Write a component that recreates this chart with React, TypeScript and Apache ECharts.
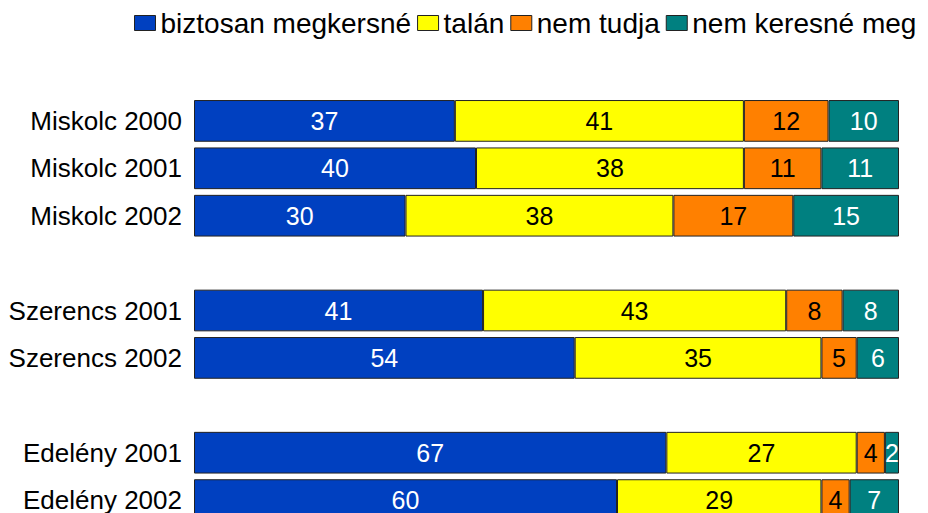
import React, { useEffect, useRef } from "react";
import * as echarts from "echarts";

const categories = [
  "Miskolc 2000",
  "Miskolc 2001",
  "Miskolc 2002",
  "",
  "Szerencs 2001",
  "Szerencs 2002",
  "",
  "Edelény 2001",
  "Edelény 2002",
];
const biztosan = [37, 40, 30, null, 41, 54, null, 67, 60];
const talan = [41, 38, 38, null, 43, 35, null, 27, 29];
const nemTudja = [12, 11, 17, null, 8, 5, null, 4, 4];
const nemKeresne = [10, 11, 15, null, 8, 6, null, 2, 7];

const seriesNames = ["biztosan megkersné", "talán", "nem tudja", "nem keresné meg"];
const colors = ["#0040C0", "#FFFF00", "#FF8000", "#008080"];
const labelColors = ["#FFFFFF", "#000000", "#000000", "#FFFFFF"];
const FONT = "'Liberation Sans', Arial, sans-serif";

export default function App() {
  const ref = useRef<HTMLDivElement>(null);
  useEffect(() => {
    document.body.style.margin = "0";
    const chart = echarts.init(ref.current!, null, { renderer: "svg" });
    const datasets = [biztosan, talan, nemTudja, nemKeresne];
    chart.setOption({
      animation: false,
      backgroundColor: "#FFFFFF",
      legend: {
        left: 129,
        top: 4,
        itemWidth: 21,
        itemHeight: 15,
        itemGap: 6,
        icon: "rect",
        textStyle: { fontFamily: FONT, fontSize: 28, color: "#000" },
        data: seriesNames.map((n, i) => ({
          name: n,
          itemStyle: { color: colors[i], borderColor: "#222", borderWidth: 1 },
        })),
      },
      grid: {
        left: 194,
        right: 29,
        top: 97.2,
        height: 426.6,
        containLabel: false,
        outerBoundsMode: "none",
      },
      xAxis: {
        type: "value",
        min: 0,
        max: 100,
        show: false,
      },
      yAxis: {
        type: "category",
        inverse: true,
        data: categories,
        axisLine: { show: false },
        axisTick: { show: false },
        axisLabel: {
          fontFamily: FONT,
          fontSize: 26,
          color: "#000",
          margin: 12,
        },
      },
      series: datasets.map((d, i) => ({
        name: seriesNames[i],
        type: "bar",
        stack: "total",
        barCategoryGap: "12%",
        data: d,
        itemStyle: { color: colors[i], borderColor: "#222", borderWidth: 1 },
        label: {
          show: true,
          position: "inside",
          fontFamily: FONT,
          fontSize: 25,
          color: labelColors[i],
        },
      })),
    });
    return () => chart.dispose();
  }, []);
  return <div ref={ref} style={{ width: 928, height: 513 }} />;
}
